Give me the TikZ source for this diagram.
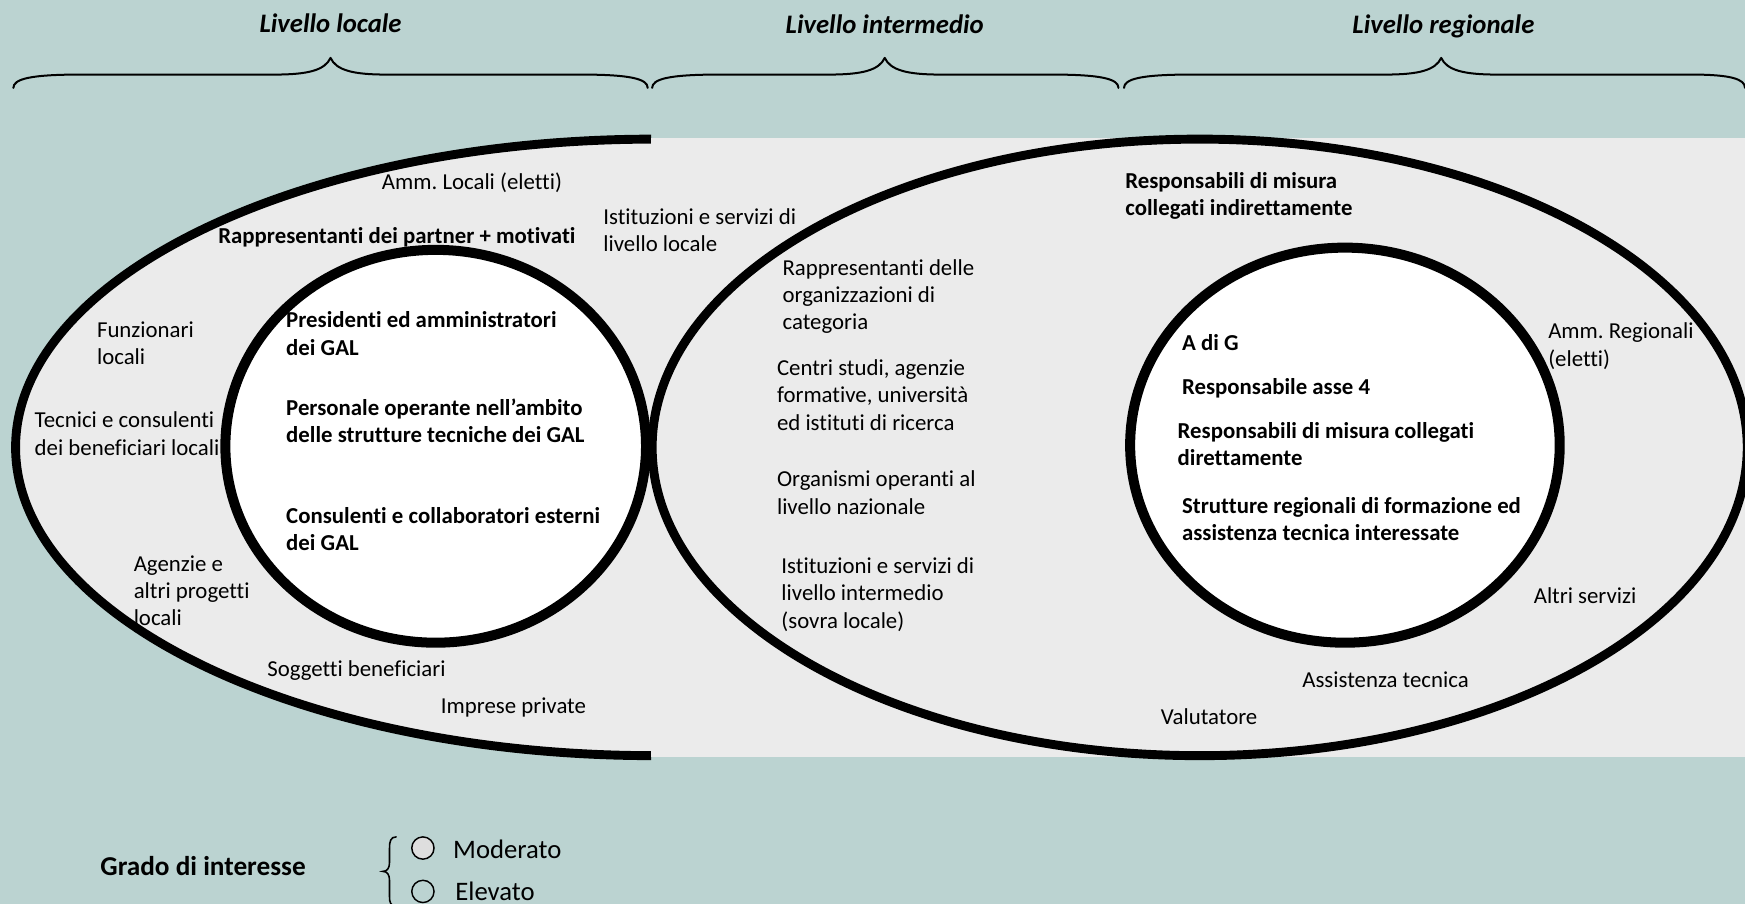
\documentclass[tikz,border=0pt]{standalone}
\usepackage{fontspec}
\setmainfont{Carlito}[Ligatures=NoCommon]
\definecolor{bgteal}{RGB}{187,211,209}
\definecolor{panel}{RGB}{235,235,235}
\definecolor{dotfill}{RGB}{222,222,222}
\begin{document}
\frenchspacing
\begin{tikzpicture}[x=1pt,y=-1pt,
  lab/.style={anchor=north west, yshift=7pt, inner sep=0pt, align=left,
    font=\fontsize{20.5}{24.5}\selectfont, execute at begin node={\rule{0pt}{17pt}}},
  blab/.style={lab, font=\fontsize{20.5}{24.5}\selectfont\bfseries},
  ttl/.style={anchor=base, inner sep=0pt, font=\fontsize{24}{29}\selectfont\bfseries\itshape},
  legt/.style={anchor=base west, inner sep=0pt, font=\fontsize{24}{29}\selectfont},
  ring/.style={line width=8pt, draw=black},
  iring/.style={line width=9pt, draw=black, fill=white},
  bracel/.style={line width=1.8pt, line cap=round, line join=round},
  dotc/.style={line width=1.3pt, draw=black}]
\useasboundingbox (0,0) rectangle (1568,812);
\fill[bgteal] (0,0) rectangle (1568,812);
% left outer ellipse, cut at the panel
\begin{scope}
  \clip (0,100) rectangle (585,720);
  \draw[ring, fill=panel] (588,402) ellipse [x radius=574pt, y radius=277pt];
\end{scope}
\fill[panel] (585,124) rectangle (1568,680);
% right outer ellipse
\draw[ring] (1078,402) ellipse [x radius=492pt, y radius=277pt];
% outer texts, left
\node[lab] (ammloc) at (343,160) {Amm. Locali (eletti)};
\node[blab] (rapp) at (196,209) {Rappresentanti dei partner + motivati};
\node[lab] (funz) at (87,296) {Funzionari\\locali};
\node[lab] (tecn) at (31,377) {Tecnici e consulenti\\dei beneficiari locali};
\node[lab] (agen) at (120,506) {Agenzie e\\altri progetti\\locali};
\node[lab] (sogg) at (240,598) {Soggetti beneficiari};
\node[lab] (impr) at (396,631) {Imprese private};
% middle
\node[lab] (istloc) at (542,194) {Istituzioni e servizi di\\livello locale};
\node[lab] (rappcat) at (703,240) {Rappresentanti delle\\organizzazioni di\\categoria};
\node[lab] (centri) at (698,330) {Centri studi, agenzie\\formative, università\\ed istituti di ricerca};
\node[lab] (organ) at (698,430) {Organismi operanti al\\livello nazionale};
\node[lab] (istint) at (702,508) {Istituzioni e servizi di\\livello intermedio\\(sovra locale)};
% right outer
\node[blab] (respind) at (1011,162) {Responsabili di misura\\collegati indirettamente};
\node[lab] (ammreg) at (1391,297) {Amm. Regionali\\(eletti)};
\node[lab] (altri) at (1378,532) {Altri servizi};
\node[lab] (assist) at (1170,608) {Assistenza tecnica};
\node[lab] (valut) at (1043,641) {Valutatore};
% inner circles
\draw[iring] (391.5,401) ellipse [x radius=189pt, y radius=176.5pt];
\draw[iring] (1208.5,400) ellipse [x radius=193pt, y radius=177.5pt];
% inner texts left
\node[blab] (pres) at (257,287) {Presidenti ed amministratori\\dei GAL};
\node[blab] (pers) at (257,365) {Personale operante nell’ambito\\delle strutture tecniche dei GAL};
\node[blab] (cons) at (257,463) {Consulenti e collaboratori esterni\\dei GAL};
% inner texts right
\node[blab] (adg) at (1062,305) {A di G};
\node[blab] (resp4) at (1062,344) {Responsabile asse 4};
\node[blab] (respdir) at (1058,386) {Responsabili di misura collegati\\direttamente};
\node[blab] (strutt) at (1062,454) {Strutture regionali di formazione ed\\assistenza tecnica interessate};
% braces
\draw[bracel] (12,79) .. controls (12,71) and (27,67) .. (72,67) -- (247,67)
  .. controls (277,67) and (292,63) .. (297,52)
  .. controls (302,63) and (317,67) .. (347,67) -- (522,67)
  .. controls (567,67) and (582,71) .. (582,79);
\draw[bracel] (586,79) .. controls (586,71) and (601,67) .. (646,67) -- (745,67)
  .. controls (775,67) and (790,63) .. (795,52)
  .. controls (800,63) and (815,67) .. (845,67) -- (945,67)
  .. controls (990,67) and (1005,71) .. (1005,79);
\draw[bracel] (1010,79) .. controls (1010,71) and (1025,67) .. (1070,67) -- (1245,67)
  .. controls (1275,67) and (1290,63) .. (1295,52)
  .. controls (1300,63) and (1315,67) .. (1345,67) -- (1520,67)
  .. controls (1555,67) and (1568,71) .. (1568,79);
% titles
\node[ttl] (tloc) at (297,29) {Livello locale};
\node[ttl] (tint) at (795,30) {Livello intermedio};
\node[ttl] (treg) at (1297,30) {Livello regionale};
% legend
\node[anchor=base west, inner sep=0pt, font=\fontsize{24.5}{29}\selectfont\bfseries] (grado) at (90,787) {Grado di interesse};
\draw[line width=1.4pt, line cap=round] (356,752) .. controls (351,752) and (350,756) .. (350,762) -- (350,775)
  .. controls (350,780) and (348,783) .. (344,783)
  .. controls (348,783) and (350,786) .. (350,791) -- (350,806)
  .. controls (350,811) and (351,814) .. (356,814);
\draw[dotc, fill=dotfill] (380,762) circle [radius=10pt];
\draw[dotc] (380,801) circle [radius=10pt];
\node[legt] (mod) at (407,771) {Moderato};
\node[legt] (elev) at (409,809) {Elevato};
\end{tikzpicture}
\end{document}
